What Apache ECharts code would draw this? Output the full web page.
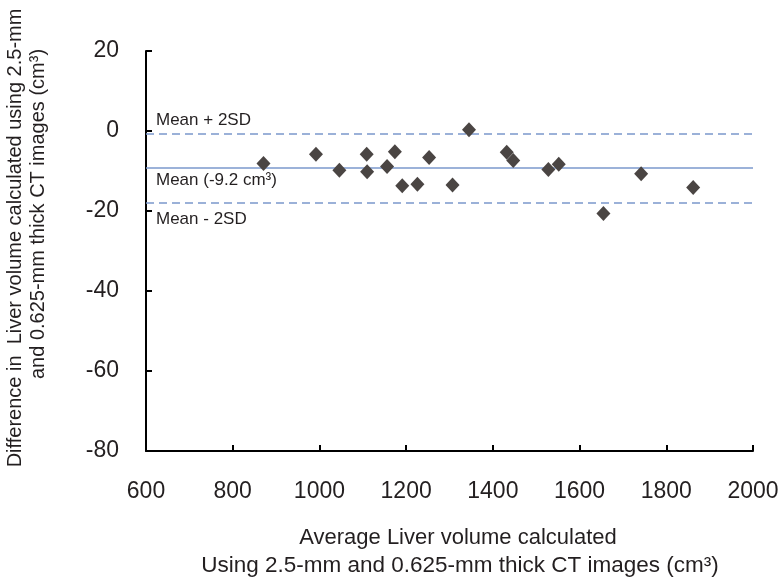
<!DOCTYPE html>
<html lang="en">
<head>
<meta charset="UTF-8">
<title>Bland-Altman liver volume</title>
<script src="https://cdn.jsdelivr.net/npm/echarts@6/dist/echarts.min.js"></script>
<style>
  html, body { margin: 0; padding: 0; background: #fff; }
  #main { width: 783px; height: 582px; }
</style>
</head>
<body>
<div id="main"></div>
<script>
// average volume (x) and difference (y) per patient
var avgVolume = [871, 992, 1046, 1109, 1110, 1156, 1174, 1191, 1226, 1253, 1307, 1345, 1432, 1447, 1528, 1552, 1655, 1742, 1862];
var difference = [-8.1, -5.8, -9.8, -5.8, -10.2, -8.9, -5.2, -13.7, -13.3, -6.6, -13.5, 0.3, -5.3, -7.4, -9.6, -8.3, -20.6, -10.7, -14.1];
// reference lines: mean + 2SD, mean, mean - 2SD
var refValues = [-0.6, -9.2, -17.9];
var refLabels = ['Mean + 2SD', 'Mean (-9.2 cm³)', 'Mean - 2SD'];
var xTicks = [600, 800, 1000, 1200, 1400, 1600, 1800, 2000];
var yTicks = [-80, -60, -40, -20, 0, 20];

var points = avgVolume.map(function (v, i) { return [v, difference[i]]; });

var textColor = '#231f20';
var lineColor = '#7b98cc';
var font = 'Liberation Sans';

var myChart = echarts.init(document.getElementById('main'));

var option = {
  animation: false,
  grid: { left: 146, right: 30, top: 51, bottom: 131 },
  xAxis: {
    type: 'value',
    min: xTicks[0],
    max: xTicks[xTicks.length - 1],
    interval: 200,
    splitLine: { show: false },
    axisLine: { onZero: false, lineStyle: { color: '#000', width: 2 } },
    axisTick: { inside: true, length: 6, lineStyle: { color: '#000', width: 2 } },
    axisLabel: {
      color: textColor, fontSize: 23, fontFamily: font, margin: 29,
      formatter: function (v) { return String(v); }
    }
  },
  yAxis: {
    type: 'value',
    min: yTicks[0],
    max: yTicks[yTicks.length - 1],
    interval: 20,
    splitLine: { show: false },
    axisLine: { show: true, onZero: false, lineStyle: { color: '#000', width: 2 } },
    axisTick: { show: true, inside: true, length: 6, lineStyle: { color: '#000', width: 2 } },
    axisLabel: { color: textColor, fontSize: 23, fontFamily: font, margin: 27 }
  },
  graphic: [
    {
      type: 'text',
      x: 15, y: 238,
      rotation: Math.PI / 2,
      style: {
        text: 'Difference in  Liver volume calculated using 2.5-mm',
        fill: textColor,
        font: '20px "Liberation Sans"',
        align: 'center',
        verticalAlign: 'middle'
      }
    },
    {
      type: 'text',
      x: 38, y: 214,
      rotation: Math.PI / 2,
      style: {
        text: 'and 0.625-mm thick CT images (cm³)',
        fill: textColor,
        font: '20px "Liberation Sans"',
        align: 'center',
        verticalAlign: 'middle'
      }
    },
    {
      type: 'text',
      x: 458, y: 538,
      style: {
        text: 'Average Liver volume calculated',
        fill: textColor,
        font: '22px "Liberation Sans"',
        align: 'center',
        verticalAlign: 'middle'
      }
    },
    {
      type: 'text',
      x: 460, y: 566,
      style: {
        text: 'Using 2.5-mm and 0.625-mm thick CT images (cm³)',
        fill: textColor,
        font: '22.5px "Liberation Sans"',
        align: 'center',
        verticalAlign: 'middle'
      }
    }
  ],
  series: [
    {
      type: 'scatter',
      data: points,
      symbol: 'diamond',
      symbolSize: [14, 15],
      itemStyle: { color: '#4a4543', opacity: 1 },
      z: 5,
      markLine: {
        silent: true,
        symbol: 'none',
        animation: false,
        data: refValues.map(function (v, i) {
          return {
            yAxis: v,
            lineStyle: { color: lineColor, width: 1.5, type: i === 1 ? 'solid' : [8, 5] },
            label: {
              show: true,
              formatter: refLabels[i],
              position: i === 0 ? 'insideStartTop' : 'insideStartBottom',
              distance: i === 0 ? [10, 5] : (i === 1 ? [10, 4] : [10, 8]),
              color: textColor,
              fontSize: 17,
              fontFamily: font
            }
          };
        })
      }
    }
  ]
};

myChart.setOption(option);
</script>
</body>
</html>
